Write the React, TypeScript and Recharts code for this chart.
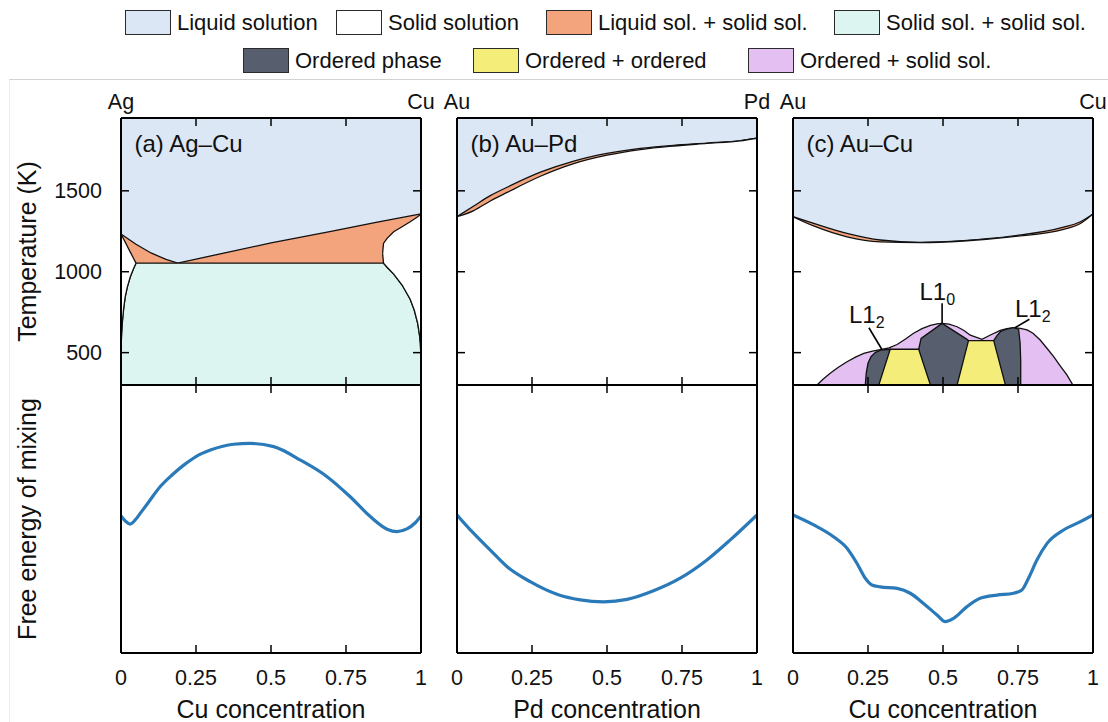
import React from 'react';
import { ComposedChart, Area, Line, XAxis, YAxis } from 'recharts';

const FONT = '"Liberation Sans", Arial, Helvetica, sans-serif';

// ---------- colours ----------
const COLOR_LIQUID = '#dce7f5';
const COLOR_SOLID = '#ffffff';
const COLOR_LIQ_SOL = '#f4a47c';
const COLOR_SOL_SOL = '#ddf5f0';
const COLOR_ORDERED = '#575e6d';
const COLOR_ORD_ORD = '#f5ed7a';
const COLOR_ORD_SOL = '#e4bff2';
const COLOR_FREE = '#2a7ab9';
const EDGE = '#111';

// ---------- legend ----------
const legendLabels = [
  'Liquid solution',
  'Solid solution',
  'Liquid sol. + solid sol.',
  'Solid sol. + solid sol.',
  'Ordered phase',
  'Ordered + ordered',
  'Ordered + solid sol.',
];
const legendColors = [COLOR_LIQUID, COLOR_SOLID, COLOR_LIQ_SOL, COLOR_SOL_SOL, COLOR_ORDERED, COLOR_ORD_ORD, COLOR_ORD_SOL];

// ---------- axes / text ----------
const concTicks = [0, 0.25, 0.5, 0.75, 1];
const concTickLabels = ['0', '0.25', '0.5', '0.75', '1'];
const innerConcTicks = [0.25, 0.5, 0.75];
const tempTicks = [500, 1000, 1500];
const tempDomain: [number, number] = [300, 1950];
const freeDomain: [number, number] = [0, 100];

const panelTitles = ['(a) Ag–Cu', '(b) Au–Pd', '(c) Au–Cu'];
const panelElements = [['Ag', 'Cu'], ['Au', 'Pd'], ['Au', 'Cu']];
const concTitles = ['Cu concentration', 'Pd concentration', 'Cu concentration'];
const tempTitle = 'Temperature (K)';
const freeTitle = 'Free energy of mixing';
const orderedLabels = [
  { main: 'L1', sub: '2' },
  { main: 'L1', sub: '0' },
  { main: 'L1', sub: '2' },
];

// ---------- (a) Ag–Cu ----------
const liquidTop = [{ c: 0, T: 1950 }, { c: 1, T: 1950 }];

const agcuLiquidus = [
  { c: 0, T: 1233 }, { c: 0.05, T: 1170 }, { c: 0.1, T: 1116 }, { c: 0.15, T: 1076 }, { c: 0.189, T: 1053 },
  { c: 0.3, T: 1098 }, { c: 0.5, T: 1178 }, { c: 0.7, T: 1250 }, { c: 0.85, T: 1305 }, { c: 1, T: 1357 },
];
// Ag-rich solid solution: [solvus, solidus]
const agcuAgSolid = [
  { c: 0, r: [450, 1233] }, { c: 0.0005, r: [540, 1231] }, { c: 0.002, r: [620, 1226] }, { c: 0.005, r: [700, 1215] },
  { c: 0.009, r: [775, 1201] }, { c: 0.014, r: [845, 1183] }, { c: 0.021, r: [905, 1157] }, { c: 0.031, r: [969, 1121] },
  { c: 0.042, r: [1020, 1082] }, { c: 0.05, r: [1053, 1053] },
];
// two-solid region upper boundary (solvus / eutectic line)
const agcuTwoSolid = [
  { c: 0, T: 450 }, { c: 0.0005, T: 540 }, { c: 0.002, T: 620 }, { c: 0.005, T: 700 }, { c: 0.009, T: 775 },
  { c: 0.014, T: 845 }, { c: 0.021, T: 905 }, { c: 0.031, T: 969 }, { c: 0.042, T: 1020 }, { c: 0.05, T: 1053 },
  { c: 0.875, T: 1053 }, { c: 0.887, T: 1028 }, { c: 0.909, T: 985 }, { c: 0.937, T: 918 }, { c: 0.964, T: 830 },
  { c: 0.978, T: 760 }, { c: 0.989, T: 681 }, { c: 0.995, T: 610 }, { c: 0.998, T: 557 }, { c: 1, T: 450 },
];
// Cu-rich solid solution: [solvus, solidus]
const agcuCuSolid = [
  { c: 0.872, r: [1113, 1113] }, { c: 0.875, r: [1053, 1175] }, { c: 0.887, r: [1028, 1206] }, { c: 0.909, r: [985, 1247] },
  { c: 0.937, r: [918, 1278] }, { c: 0.964, r: [830, 1309] }, { c: 0.978, r: [760, 1326] }, { c: 0.989, r: [681, 1340] },
  { c: 0.995, r: [610, 1349] }, { c: 0.998, r: [557, 1353] }, { c: 1, r: [450, 1357] },
];
const agcuFree = [
  { c: 0, g: 51.1 }, { c: 0.015, g: 49.2 }, { c: 0.031, g: 48.1 }, { c: 0.05, g: 50.0 }, { c: 0.064, g: 52.1 },
  { c: 0.09, g: 56.0 }, { c: 0.131, g: 62.1 }, { c: 0.17, g: 66.4 }, { c: 0.209, g: 70.1 }, { c: 0.25, g: 73.3 },
  { c: 0.298, g: 75.7 }, { c: 0.375, g: 77.9 }, { c: 0.431, g: 78.2 }, { c: 0.509, g: 77.0 }, { c: 0.598, g: 72.0 },
  { c: 0.687, g: 65.8 }, { c: 0.764, g: 58.3 }, { c: 0.831, g: 50.9 }, { c: 0.887, g: 46.2 }, { c: 0.92, g: 45.3 },
  { c: 0.953, g: 46.3 }, { c: 0.981, g: 48.6 }, { c: 1, g: 51.1 },
];

// ---------- (b) Au–Pd ----------
const aupdLiquidus = [
  { c: 0, T: 1340 }, { c: 0.056, T: 1406 }, { c: 0.111, T: 1470 }, { c: 0.167, T: 1522 }, { c: 0.278, T: 1615 },
  { c: 0.389, T: 1684 }, { c: 0.5, T: 1731 }, { c: 0.611, T: 1762 }, { c: 0.722, T: 1781 }, { c: 0.833, T: 1795 },
  { c: 0.944, T: 1810 }, { c: 1, T: 1825 },
];
const aupdSolidus = [
  { c: 0, T: 1340 }, { c: 0.056, T: 1378 }, { c: 0.111, T: 1437 }, { c: 0.167, T: 1490 }, { c: 0.278, T: 1590 },
  { c: 0.389, T: 1668 }, { c: 0.5, T: 1720 }, { c: 0.611, T: 1755 }, { c: 0.722, T: 1777 }, { c: 0.833, T: 1793 },
  { c: 0.944, T: 1809 }, { c: 1, T: 1825 },
];
const aupdFree = [
  { c: 0, g: 51.5 }, { c: 0.055, g: 44.7 }, { c: 0.111, g: 38.4 }, { c: 0.167, g: 32.2 }, { c: 0.244, g: 26.6 },
  { c: 0.333, g: 21.9 }, { c: 0.411, g: 19.8 }, { c: 0.489, g: 19.1 }, { c: 0.567, g: 20.0 }, { c: 0.655, g: 23.2 },
  { c: 0.744, g: 27.9 }, { c: 0.833, g: 34.7 }, { c: 0.911, g: 42.2 }, { c: 1, g: 51.5 },
];

// ---------- (c) Au–Cu ----------
const aucuLiquidus = [
  { c: 0, T: 1340 }, { c: 0.069, T: 1299 }, { c: 0.18, T: 1237 }, { c: 0.291, T: 1196 }, { c: 0.424, T: 1182 },
  { c: 0.569, T: 1192 }, { c: 0.735, T: 1221 }, { c: 0.902, T: 1275 }, { c: 0.958, T: 1309 }, { c: 1, T: 1357 },
];
const aucuSolidus = [
  { c: 0, T: 1340 }, { c: 0.069, T: 1283 }, { c: 0.18, T: 1216 }, { c: 0.291, T: 1185 }, { c: 0.424, T: 1180 },
  { c: 0.569, T: 1190 }, { c: 0.735, T: 1217 }, { c: 0.902, T: 1262 }, { c: 0.958, T: 1298 }, { c: 1, T: 1357 },
];
const aucuOrderedEnvelope = [
  { c: 0.08, T: 300 }, { c: 0.1, T: 335 }, { c: 0.124, T: 372 }, { c: 0.15, T: 408 }, { c: 0.18, T: 444 },
  { c: 0.21, T: 474 }, { c: 0.236, T: 496 }, { c: 0.265, T: 510 }, { c: 0.291, T: 518 }, { c: 0.32, T: 530 },
  { c: 0.347, T: 550 }, { c: 0.375, T: 584 }, { c: 0.402, T: 620 }, { c: 0.43, T: 648 }, { c: 0.458, T: 668 },
  { c: 0.48, T: 678 }, { c: 0.497, T: 681 }, { c: 0.52, T: 676 }, { c: 0.547, T: 660 }, { c: 0.57, T: 637 },
  { c: 0.591, T: 608 }, { c: 0.63, T: 582 }, { c: 0.658, T: 609 }, { c: 0.691, T: 637 }, { c: 0.713, T: 649 },
  { c: 0.735, T: 654 }, { c: 0.758, T: 650 }, { c: 0.78, T: 640 }, { c: 0.8, T: 620 }, { c: 0.824, T: 578 },
  { c: 0.845, T: 530 }, { c: 0.869, T: 475 }, { c: 0.89, T: 420 }, { c: 0.913, T: 362 }, { c: 0.933, T: 300 },
];
const aucuL12Left = [
  { c: 0.241, T: 300 }, { c: 0.244, T: 372 }, { c: 0.25, T: 434 }, { c: 0.26, T: 475 }, { c: 0.274, T: 500 },
  { c: 0.291, T: 516 }, { c: 0.324, T: 521 }, { c: 0.33, T: 300 },
];
const aucuTwoOrderedLeft = [{ c: 0.286, T: 300 }, { c: 0.324, T: 521 }, { c: 0.419, T: 521 }, { c: 0.458, T: 300 }];
const aucuL10 = [
  { c: 0.419, T: 521 }, { c: 0.427, T: 588 }, { c: 0.497, T: 681 }, { c: 0.58, T: 582 }, { c: 0.585, T: 574 }, { c: 0.59, T: 300 },
];
const aucuTwoOrderedRight = [{ c: 0.547, T: 300 }, { c: 0.585, T: 574 }, { c: 0.669, T: 574 }, { c: 0.708, T: 300 }];
const aucuL12Right = [
  { c: 0.669, T: 574 }, { c: 0.68, T: 605 }, { c: 0.691, T: 629 }, { c: 0.713, T: 646 }, { c: 0.735, T: 654 },
  { c: 0.752, T: 645 }, { c: 0.757, T: 560 }, { c: 0.759, T: 450 }, { c: 0.759, T: 300 },
];
const pointerL12Left = [{ c: 0.253, T: 654 }, { c: 0.296, T: 521 }];
const pointerL10 = [{ c: 0.497, T: 805 }, { c: 0.497, T: 681 }];
const pointerL12Right = [{ c: 0.788, T: 706 }, { c: 0.74, T: 654 }];
const aucuFree = [
  { c: 0, g: 51.5 }, { c: 0.069, g: 47.8 }, { c: 0.135, g: 43.4 }, { c: 0.18, g: 39.1 }, { c: 0.213, g: 33.5 },
  { c: 0.241, g: 27.9 }, { c: 0.263, g: 25.4 }, { c: 0.291, g: 24.7 }, { c: 0.347, g: 24.1 }, { c: 0.391, g: 22.3 },
  { c: 0.435, g: 18.5 }, { c: 0.48, g: 14.2 }, { c: 0.508, g: 11.7 }, { c: 0.535, g: 12.9 }, { c: 0.58, g: 17.3 },
  { c: 0.624, g: 20.4 }, { c: 0.68, g: 21.6 }, { c: 0.735, g: 22.3 }, { c: 0.763, g: 23.5 }, { c: 0.785, g: 27.9 },
  { c: 0.813, g: 34.7 }, { c: 0.847, g: 40.9 }, { c: 0.902, g: 45.9 }, { c: 0.958, g: 49.0 }, { c: 1, g: 51.5 },
];

// ---------- layout ----------
const PLOT_LEFT = [121, 457, 793];
const PLOT_W = 300;
const TOP_Y = 118;
const MID_Y = 385;
const BOT_Y = 653;
const ML = 70;
const MR = 30;
const AXW = 1; // thickness reserved by each axis (must be > 0 for Recharts to draw it)
const TICK_PX = 8;
const GAP_TOP_LABEL = 9.5;
const GAP_LEFT_LABEL = 19;
const GAP_BOTTOM_LABEL = 16.3;
const legendX = [125, 336, 546, 834, 243, 473, 748];
const legendY = [10, 10, 10, 10, 48, 48, 48];
const labelPos = [
  { x: 849, y: 323 },
  { x: 919.5, y: 300 },
  { x: 1015, y: 317 },
];

const AX = { stroke: '#000', strokeWidth: 2 };
const TICK_FONT = 21.5;
const BSTROKE = 1.3;

// ---------- custom axis ticks: inward tick mark + optional label ----------
const mark = (x1: number, y1: number, x2: number, y2: number) => (
  <line x1={x1} y1={y1} x2={x2} y2={y2} stroke="#000" strokeWidth={1.5} />
);
const label = (x: number, y: number, text: string, anchor: string, dy: string) => (
  <text x={x} y={y} dy={dy} textAnchor={anchor} fontSize={TICK_FONT} fill="#111" fontFamily={FONT}>
    {text}
  </text>
);
const isInner = (v: number) => v > 0 && v < 1;

// top axis of the phase diagrams (element names at 0 / 1, marks inside)
const topElementTick = (els: string[]) => (props: any) => {
  const { x, y, payload } = props;
  const v = payload.value;
  if (isInner(v)) {
    const y0 = y + GAP_TOP_LABEL;
    return <g>{mark(x, y0, x, y0 + TICK_PX)}</g>;
  }
  return <g>{label(x, y, v === 0 ? els[0] : els[1], 'middle', '0')}</g>;
};
// plain inward marks for axes drawn at the plot edge (tickMargin 0)
const markUp = (props: any) => <g>{mark(props.x, props.y, props.x, props.y - TICK_PX)}</g>;
const markDown = (props: any) => <g>{mark(props.x, props.y, props.x, props.y + TICK_PX)}</g>;
const markLeftward = (props: any) => <g>{mark(props.x, props.y, props.x - TICK_PX, props.y)}</g>;
// left temperature axis
const tempTick = (withLabel: boolean) => (props: any) => {
  const { x, y, payload } = props;
  const x0 = x + GAP_LEFT_LABEL;
  return (
    <g>
      {mark(x0, y, x0 + TICK_PX, y)}
      {withLabel ? label(x, y, String(payload.value), 'end', '0.355em') : null}
    </g>
  );
};
// bottom concentration axis
const concTick = (props: any) => {
  const { x, y, payload } = props;
  const v = payload.value;
  const y0 = y - GAP_BOTTOM_LABEL;
  return (
    <g>
      {isInner(v) ? mark(x, y0, x, y0 - TICK_PX) : null}
      {label(x, y, concTickLabels[concTicks.indexOf(v)], 'middle', '0.71em')}
    </g>
  );
};

const area = (data: any[], key: string, fill: string, stroke: string | undefined, type: any = 'linear') => (
  <Area
    data={data}
    dataKey={key}
    type={type}
    fill={fill}
    fillOpacity={1}
    stroke={stroke ?? 'none'}
    strokeWidth={BSTROKE}
    dot={false}
    activeDot={false}
    isAnimationActive={false}
  />
);

const pointer = (data: any[]) => (
  <Line data={data} dataKey="T" type="linear" stroke="#000" strokeWidth={1.6} dot={false} activeDot={false} isAnimationActive={false} />
);

function TopChart({ col, children }: { col: number; children: React.ReactNode }) {
  const mt = 40;
  const mb = 10;
  const els = panelElements[col];
  return (
    <div style={{ position: 'absolute', left: PLOT_LEFT[col] - ML, top: TOP_Y - mt }}>
      <ComposedChart
        width={PLOT_W + ML + MR}
        height={MID_Y - TOP_Y + mt + mb}
        margin={{ top: mt - AXW, bottom: mb - AXW, left: ML - AXW, right: MR - AXW }}
        style={{ fontFamily: FONT }}
      >
        {children}
        <XAxis
          type="number"
          dataKey="c"
          domain={[0, 1]}
          allowDataOverflow
          ticks={innerConcTicks}
          orientation="bottom"
          height={AXW}
          interval={0}
          tick={markUp}
          tickSize={0}
          tickMargin={0}
          axisLine={AX}
          tickLine={false}
        />
        <XAxis
          xAxisId="t"
          type="number"
          dataKey="c"
          domain={[0, 1]}
          allowDataOverflow
          ticks={concTicks}
          orientation="top"
          height={AXW}
          tickSize={0}
          tickMargin={GAP_TOP_LABEL}
          interval={0}
          tick={topElementTick(els)}
          axisLine={AX}
          tickLine={false}
        />
        <YAxis
          type="number"
          domain={tempDomain}
          allowDataOverflow
          ticks={tempTicks}
          width={AXW}
          tickSize={0}
          tickMargin={GAP_LEFT_LABEL}
          interval={0}
          tick={tempTick(col === 0)}
          axisLine={AX}
          tickLine={false}
        />
        <YAxis
          yAxisId="r"
          orientation="right"
          type="number"
          domain={tempDomain}
          allowDataOverflow
          ticks={tempTicks}
          width={AXW}
          tickSize={0}
          tickMargin={0}
          interval={0}
          tick={markLeftward}
          axisLine={AX}
          tickLine={false}
        />
      </ComposedChart>
    </div>
  );
}

function BottomChart({ col, children }: { col: number; children: React.ReactNode }) {
  const mt = 10;
  const mb = 60;
  return (
    <div style={{ position: 'absolute', left: PLOT_LEFT[col] - ML, top: MID_Y - mt }}>
      <ComposedChart
        width={PLOT_W + ML + MR}
        height={BOT_Y - MID_Y + mt + mb}
        margin={{ top: mt - AXW, bottom: mb - AXW, left: ML - AXW, right: MR - AXW }}
        style={{ fontFamily: FONT }}
      >
        {children}
        <XAxis
          type="number"
          dataKey="c"
          domain={[0, 1]}
          allowDataOverflow
          ticks={concTicks}
          height={AXW}
          tickSize={0}
          tickMargin={GAP_BOTTOM_LABEL}
          interval={0}
          tick={concTick}
          axisLine={AX}
          tickLine={false}
        />
        <XAxis
          xAxisId="t"
          type="number"
          dataKey="c"
          orientation="top"
          domain={[0, 1]}
          allowDataOverflow
          ticks={innerConcTicks}
          height={AXW}
          tickSize={0}
          tickMargin={0}
          interval={0}
          tick={markDown}
          axisLine={AX}
          tickLine={false}
        />
        <YAxis type="number" domain={freeDomain} allowDataOverflow width={AXW} tick={false} tickLine={false} axisLine={AX} />
        <YAxis
          yAxisId="r"
          orientation="right"
          type="number"
          domain={freeDomain}
          allowDataOverflow
          width={AXW}
          tick={false}
          tickLine={false}
          axisLine={AX}
        />
      </ComposedChart>
    </div>
  );
}

const freeLine = (data: any[]) => (
  <Line
    data={data}
    dataKey="g"
    type="monotone"
    stroke={COLOR_FREE}
    strokeWidth={3.2}
    dot={false}
    activeDot={false}
    isAnimationActive={false}
  />
);

export default function App() {
  return (
    <div style={{ position: 'absolute', left: 0, top: 0, width: 1108, height: 722, background: '#fff', fontFamily: FONT, overflow: 'hidden' }}>
      {/* legend */}
      {legendLabels.map((lab, i) => (
        <div key={lab}>
          <div
            style={{
              position: 'absolute',
              left: legendX[i],
              top: legendY[i],
              width: 46,
              height: 25,
              boxSizing: 'border-box',
              border: '1.5px solid #2a2a2a',
              background: legendColors[i],
            }}
          />
          <div
            style={{
              position: 'absolute',
              left: legendX[i] + 52,
              top: legendY[i],
              height: 25,
              lineHeight: '25px',
              fontSize: 22,
              color: '#111',
              whiteSpace: 'nowrap',
            }}
          >
            {lab}
          </div>
        </div>
      ))}
      <div
        style={{
          position: 'absolute',
          left: 9,
          top: 79,
          width: 1099,
          height: 643,
          borderTop: '1.5px solid #d2d2d2',
          borderLeft: '1px solid #ececec',
        }}
      />

      {/* (a) Ag–Cu */}
      <TopChart col={0}>
        {area(liquidTop, 'T', COLOR_LIQUID, undefined)}
        {area(agcuLiquidus, 'T', COLOR_LIQ_SOL, EDGE)}
        {area(agcuTwoSolid, 'T', COLOR_SOL_SOL, EDGE)}
        {area(agcuAgSolid, 'r', COLOR_SOLID, EDGE)}
        {area(agcuCuSolid, 'r', COLOR_SOLID, EDGE)}
      </TopChart>

      {/* (b) Au–Pd */}
      <TopChart col={1}>
        {area(liquidTop, 'T', COLOR_LIQUID, undefined)}
        {area(aupdLiquidus, 'T', COLOR_LIQ_SOL, EDGE, 'monotone')}
        {area(aupdSolidus, 'T', COLOR_SOLID, EDGE, 'monotone')}
      </TopChart>

      {/* (c) Au–Cu */}
      <TopChart col={2}>
        {area(liquidTop, 'T', COLOR_LIQUID, undefined)}
        {area(aucuLiquidus, 'T', COLOR_LIQ_SOL, EDGE, 'monotone')}
        {area(aucuSolidus, 'T', COLOR_SOLID, EDGE, 'monotone')}
        {area(aucuOrderedEnvelope, 'T', COLOR_ORD_SOL, EDGE)}
        {area(aucuL12Left, 'T', COLOR_ORDERED, EDGE)}
        {area(aucuL10, 'T', COLOR_ORDERED, EDGE)}
        {area(aucuL12Right, 'T', COLOR_ORDERED, EDGE)}
        {area(aucuTwoOrderedLeft, 'T', COLOR_ORD_ORD, EDGE)}
        {area(aucuTwoOrderedRight, 'T', COLOR_ORD_ORD, EDGE)}
        {pointer(pointerL12Left)}
        {pointer(pointerL10)}
        {pointer(pointerL12Right)}
      </TopChart>

      <BottomChart col={0}>{freeLine(agcuFree)}</BottomChart>
      <BottomChart col={1}>{freeLine(aupdFree)}</BottomChart>
      <BottomChart col={2}>{freeLine(aucuFree)}</BottomChart>

      {/* text overlay */}
      <svg width={1108} height={722} style={{ position: 'absolute', left: 0, top: 0, pointerEvents: 'none' }}>
        <g fontFamily={FONT} fill="#111">
          <text transform="translate(36,251.5) rotate(-90)" textAnchor="middle" fontSize={25}>
            {tempTitle}
          </text>
          <text transform="translate(36,519) rotate(-90)" textAnchor="middle" fontSize={25}>
            {freeTitle}
          </text>
          {concTitles.map((t, i) => (
            <text key={'xt' + i} x={PLOT_LEFT[i] + PLOT_W / 2} y={718} textAnchor="middle" fontSize={25}>
              {t}
            </text>
          ))}
          {panelTitles.map((t, i) => (
            <text key={'pt' + i} x={PLOT_LEFT[i] + 13.5} y={152} fontSize={24}>
              {t}
            </text>
          ))}
          {orderedLabels.map((l, i) => (
            <text key={'ol' + i} x={labelPos[i].x} y={labelPos[i].y} fontSize={24}>
              <tspan>{l.main}</tspan>
              <tspan dy={5} fontSize={16}>
                {l.sub}
              </tspan>
            </text>
          ))}
        </g>
      </svg>
    </div>
  );
}
